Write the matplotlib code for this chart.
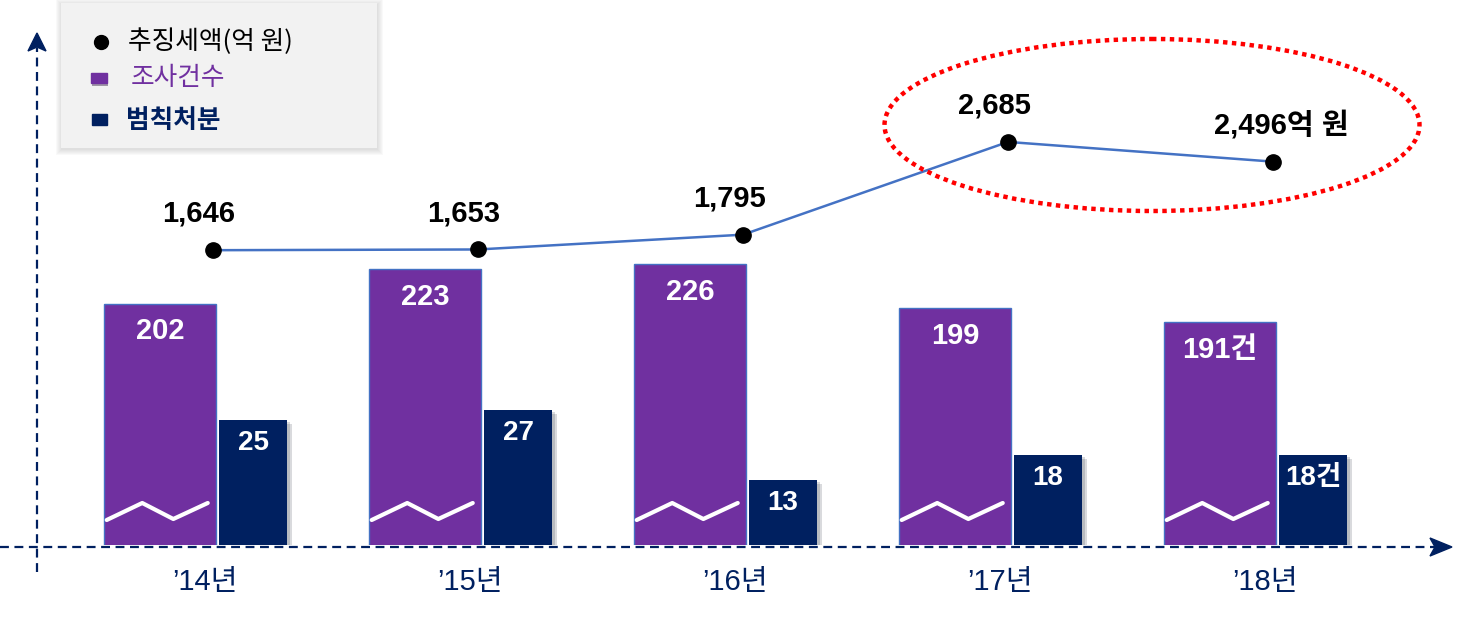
#!/usr/bin/env python3
"""Tax investigation chart: cases, penalties and collected tax amount"""

import matplotlib
matplotlib.use("Agg")
import matplotlib.pyplot as plt
import matplotlib.patheffects as pe
from matplotlib.patches import Ellipse, Rectangle, Polygon
from matplotlib.transforms import blended_transform_factory

years = ["’14년", "’15년", "’16년", "’17년", "’18년"]
investigations = [202, 223, 226, 199, 191]      # 조사건수
penalties = [25, 27, 13, 18, 18]                 # 범칙처분
tax_amount = [1646, 1653, 1795, 2685, 2496]      # 추징세액(억 원)

inv_labels = ["202", "223", "226", "199", "191건"]
pen_labels = ["25", "27", "13", "18", "18건"]
amt_labels = ["1,646", "1,653", "1,795", "2,685", "2,496억 원"]

PURPLE = "#7030A0"
NAVY = "#002060"
LINE = "#4472C4"
FONT = ["Liberation Sans", "Noto Sans CJK KR", "DejaVu Sans"]
KFONT = ["Noto Sans CJK KR", "DejaVu Sans"]

W, H = 1473, 621


def main():
    plt.rcParams["font.family"] = FONT
    fig = plt.figure(figsize=(W / 100, H / 100), dpi=100)
    rect = [0, 76 / H, 1, 545 / H]

    ax = fig.add_axes(rect)          # purple bars
    ax_n = ax.twinx()                # navy bars
    ax_l = ax.twinx()                # line
    for a in (ax, ax_n, ax_l):
        a.set_axis_off()

    x = list(range(len(years)))
    ax.set_xlim(-160 / 265, (W - 160) / 265)
    ax.set_ylim(55.4, 55.4 + 545 / 1.647)
    ax_n.set_ylim(0, 109)
    ax_l.set_ylim(-1183, 4047)

    # purple bars
    bars = ax.bar(x, investigations, width=0.419, color=PURPLE,
                  edgecolor=LINE, linewidth=1, zorder=2)
    for b, lab in zip(bars, inv_labels):
        ax.annotate(lab, (b.get_x() + b.get_width() / 2, b.get_height()),
                    xytext=(0, -10), textcoords="offset points",
                    ha="center", va="top", color="white",
                    fontsize=21, fontweight="bold")

    # break waves on purple bars
    tr = blended_transform_factory(ax.transData, ax.transAxes)
    for b in bars:
        x0, w = b.get_x(), b.get_width()
        xs = [x0 + f * w for f in (0.02, 0.34, 0.62, 0.93)]
        ys = [p / 545 for p in (25, 42, 26, 42)]
        ax.plot(xs, ys, color="white", lw=3, transform=tr,
                solid_joinstyle="round", solid_capstyle="round", zorder=3)

    # navy bars
    xn = [i + 0.351 for i in x]
    nbars = ax_n.bar(xn, penalties, width=0.26, color=NAVY, zorder=2)
    for b in nbars:
        b.set_path_effects([pe.SimplePatchShadow(offset=(3, -3), alpha=0.15),
                            pe.SimplePatchShadow(offset=(1.5, -1.5), alpha=0.15),
                            pe.Normal()])
    for b, lab in zip(nbars, pen_labels):
        ax_n.annotate(lab, (b.get_x() + b.get_width() / 2, b.get_height()),
                      xytext=(0, -7), textcoords="offset points",
                      ha="center", va="top", color="white",
                      fontsize=20, fontweight="bold")

    # tax amount line
    xl = [i + 0.2 for i in x]
    ax_l.plot(xl, tax_amount, color=LINE, lw=1.8, marker="o",
              markersize=11, markerfacecolor="black",
              markeredgecolor="black", zorder=4)
    for xi, v, lab in zip(xl, tax_amount, amt_labels):
        dx = 6 if "억" in lab else -10
        ax_l.annotate(lab, (xi, v), xytext=(dx, 16),
                      textcoords="offset points", ha="center",
                      va="bottom", fontsize=21, fontweight="bold",
                      color="black")

    # year labels
    for i, yr in enumerate(years):
        ax.text(i + 0.17, -37 / 545, yr, transform=tr, ha="center",
                va="center", fontsize=21, color=NAVY)

    # overlay in pixel coordinates for axes arrows, legend and highlight
    deco = fig.add_axes([0, 0, 1, 1])
    deco.set_xlim(0, W)
    deco.set_ylim(H, 0)
    deco.set_axis_off()

    deco.plot([0, 1438], [547, 547], color=NAVY, lw=1.6,
              linestyle=(0, (4, 2.5)))
    deco.add_patch(Polygon([[1430, 538], [1452, 547], [1430, 556],
                            [1435, 547]], closed=True, color=NAVY))
    deco.plot([37, 37], [572, 48], color=NAVY, lw=1.6,
              linestyle=(0, (4, 2.5)))
    deco.add_patch(Polygon([[28, 51], [37, 33], [46, 51], [37, 47]],
                           closed=True, color=NAVY))

    # red dotted highlight
    deco.add_patch(Ellipse((1152, 125), 535, 172, fill=False,
                           edgecolor="#FF0000", lw=3.2,
                           linestyle=(0, (1, 1)), zorder=5))

    # legend box with soft shadow
    for k in range(6, 0, -1):
        deco.add_patch(Rectangle((61 - k + 1, 3 - k + 2), 316 + 2 * k - 1,
                                 145 + 2 * k - 1,
                                 facecolor="#808080", alpha=0.045,
                                 edgecolor="none", zorder=6))
    deco.add_patch(Rectangle((61, 3), 316, 145, facecolor="#F2F2F2",
                             edgecolor="none", zorder=6))
    deco.plot([101], [42], marker="o", color="black", markersize=10,
              zorder=7)
    sq1 = Rectangle((91, 73), 16, 10, color=PURPLE, zorder=7)
    sq1.set_path_effects([pe.SimplePatchShadow(offset=(1, -2), alpha=0.4),
                          pe.Normal()])
    deco.add_patch(sq1)
    deco.add_patch(Rectangle((92, 114), 15, 11, color=NAVY, zorder=7))
    deco.text(128, 42, "추징세액(억 원)", fontsize=18.5, color="black",
              va="center", ha="left", family=KFONT, fontweight="medium",
              zorder=8)
    deco.text(131, 78, "조사건수", fontsize=18.5, color=PURPLE,
              va="center", ha="left", family=KFONT, fontweight="medium",
              zorder=8)
    deco.text(126, 120, "범칙처분", fontsize=18.5, color=NAVY,
              va="center", ha="left", family=KFONT, fontweight="bold",
              zorder=8)

    fig.savefig("out.png", dpi=100)


if __name__ == "__main__":
    main()
